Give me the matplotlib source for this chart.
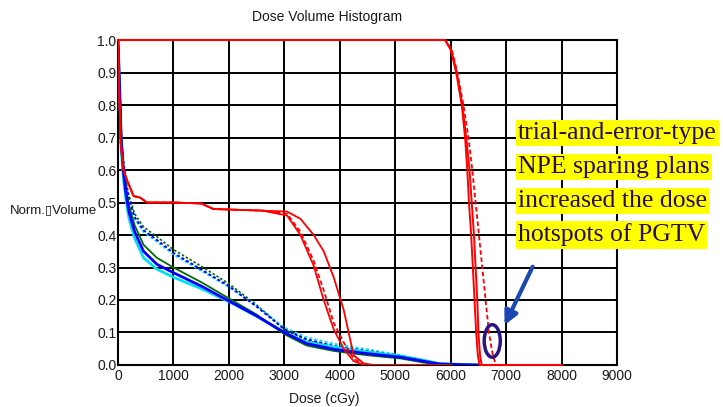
import matplotlib
matplotlib.use('Agg')
import matplotlib.pyplot as plt
from matplotlib.patches import Ellipse

# OAR curves (blue / green / cyan), shared dose grid
oar_dose = [0, 30, 60, 100, 150, 200, 300, 460, 700, 1000, 1500, 2000,
            2500, 3000, 3400, 3900, 4500, 5100, 5500, 5800, 6500]
blue_solid = [1.0, 0.85, 0.68, 0.59, 0.52, 0.47, 0.41, 0.35, 0.31, 0.284, 0.243,
              0.197, 0.151, 0.10, 0.066, 0.048, 0.035, 0.024, 0.012, 0.003, 0.0]
green_solid = [1.0, 0.86, 0.70, 0.61, 0.54, 0.49, 0.43, 0.37, 0.33, 0.30, 0.255,
               0.205, 0.155, 0.095, 0.06, 0.043, 0.03, 0.02, 0.008, 0.0, 0.0]
cyan_solid = [1.0, 0.84, 0.66, 0.57, 0.50, 0.45, 0.39, 0.33, 0.295, 0.27, 0.235,
              0.195, 0.15, 0.10, 0.07, 0.055, 0.04, 0.028, 0.015, 0.004, 0.0]
blue_dash = [1.0, 0.86, 0.70, 0.62, 0.55, 0.51, 0.455, 0.415, 0.385, 0.345, 0.294,
             0.243, 0.18, 0.11, 0.079, 0.058, 0.043, 0.028, 0.015, 0.004, 0.0]
green_dash = [1.0, 0.87, 0.71, 0.63, 0.56, 0.52, 0.465, 0.425, 0.395, 0.355, 0.304,
              0.25, 0.185, 0.11, 0.075, 0.055, 0.04, 0.026, 0.012, 0.003, 0.0]
cyan_dash = [1.0, 0.85, 0.69, 0.61, 0.54, 0.50, 0.45, 0.41, 0.38, 0.34, 0.29,
             0.24, 0.18, 0.115, 0.085, 0.065, 0.048, 0.03, 0.015, 0.004, 0.0]

# red OAR curves with 0.5 plateau
red_oar_dose = [0, 20, 50, 100, 160, 280, 400, 520, 1000, 1500, 1720, 2600,
                3050, 3290, 3530, 3710, 3890, 4070, 4250, 4430, 4600, 6000]
red_a = [1.0, 0.85, 0.68, 0.60, 0.57, 0.52, 0.515, 0.50, 0.50, 0.497, 0.48, 0.475,
         0.46, 0.40, 0.305, 0.20, 0.11, 0.05, 0.012, 0.0, 0.0, 0.0]
red_b = [1.0, 0.85, 0.68, 0.60, 0.57, 0.52, 0.515, 0.50, 0.50, 0.497, 0.48, 0.475,
         0.472, 0.45, 0.40, 0.35, 0.27, 0.17, 0.03, 0.005, 0.0, 0.0]
red_c = [1.0, 0.85, 0.68, 0.60, 0.57, 0.52, 0.515, 0.50, 0.50, 0.497, 0.48, 0.475,
         0.465, 0.41, 0.32, 0.23, 0.13, 0.07, 0.02, 0.0, 0.0, 0.0]

# PGTV-type target curves
tgt_vol = [1.0, 1.0, 0.97, 0.9, 0.8, 0.7, 0.6, 0.5, 0.4, 0.3, 0.2, 0.1, 0.03, 0.0, 0.0]
tgt1_dose = [0, 5900, 6000, 6100, 6200, 6260, 6300, 6330, 6370, 6400, 6430, 6460, 6490, 6520, 8000]
tgt2_dose = [0, 5900, 6010, 6110, 6210, 6280, 6340, 6380, 6420, 6450, 6480, 6500, 6530, 6560, 8000]
tgt3_dose = [0, 5900, 6020, 6120, 6230, 6320, 6390, 6450, 6510, 6570, 6630, 6690, 6760, 6820, 8000]

x_ticks = [0, 1000, 2000, 3000, 4000, 5000, 6000, 7000, 8000, 9000]
y_ticks = [0.0, 0.1, 0.2, 0.3, 0.4, 0.5, 0.6, 0.7, 0.8, 0.9, 1.0]

note_lines = ['trial-and-error-type', 'NPE sparing plans',
              'increased the dose', 'hotspots of PGTV']

RED = '#ff0000'
BLUE = '#0000ff'
GREEN = '#006e00'
CYAN = '#00e0f0'
dotted = (0, (1.5, 1.2))
dashed = (0, (2.5, 1.5))

fig = plt.figure(figsize=(7.23, 4.07), dpi=100)
ax = fig.add_axes([0.1632, 0.1032, 0.6902, 0.7985])

# OAR dotted curves
ax.plot(oar_dose, green_dash, color=GREEN, lw=1.2, ls=dotted, zorder=2)
ax.plot(oar_dose, cyan_dash, color=CYAN, lw=1.4, ls=dotted, zorder=2)
ax.plot(oar_dose, blue_dash, color=BLUE, lw=1.4, ls=dotted, zorder=2)
# OAR solid curves
ax.plot(oar_dose, cyan_solid, color=CYAN, lw=2.0, zorder=3)
ax.plot(oar_dose, green_solid, color=GREEN, lw=1.3, zorder=3)
ax.plot(oar_dose, blue_solid, color=BLUE, lw=2.0, zorder=3)

# red OARs
ax.plot(red_oar_dose, red_a, color=RED, lw=1.3, zorder=4)
ax.plot(red_oar_dose, red_b, color=RED, lw=1.3, zorder=4)
ax.plot(red_oar_dose, red_c, color=RED, lw=1.3, ls=dashed, zorder=4)

# red targets
ax.plot(tgt1_dose, tgt_vol, color=RED, lw=1.4, zorder=4, clip_on=False)
ax.plot(tgt2_dose, tgt_vol, color=RED, lw=1.4, zorder=4, clip_on=False)
ax.plot(tgt3_dose, tgt_vol, color=RED, lw=1.3, ls=dashed, zorder=5, clip_on=False)

ax.set_xlim(0, 9000)
ax.set_ylim(0, 1.0)
ax.set_xticks(x_ticks)
ax.set_yticks(y_ticks)
ax.set_xticklabels([str(v) for v in x_ticks])
ax.set_yticklabels([f'{v:.1f}' for v in y_ticks])
ax.tick_params(axis='y', length=0, pad=1, labelsize=10, labelcolor='#1a1a1a')
ax.tick_params(axis='x', length=0, pad=3, labelsize=10, labelcolor='#1a1a1a')
for lab in ax.get_xticklabels() + ax.get_yticklabels():
    lab.set_family('Liberation Sans')
ax.grid(True, color='black', lw=1.4)
ax.set_axisbelow(True)
for sp in ax.spines.values():
    sp.set_linewidth(1.5)

# titles / labels placed like the original export
fig.text(327 / 723, 1 - 17 / 407, 'Dose Volume Histogram', ha='center', va='center',
         fontsize=10, family='Liberation Sans', color='#1a1a1a')
fig.text(324 / 723, 1 - 399 / 407, 'Dose (cGy)', ha='center', va='center',
         fontsize=10, family='Liberation Sans', color='#1a1a1a')
fig.text(10 / 723, 1 - 210 / 407, 'Norm.\u25afVolume', ha='left', va='center',
         fontsize=9.5, family=['Liberation Sans', 'DejaVu Sans'], color='#1a1a1a')

# marked hotspot and arrow
ax.add_patch(Ellipse((6750, 0.074), 290, 0.1, fill=False, edgecolor='#2b1584',
                     lw=2.5, zorder=6))
ax.annotate('', xy=(6950, 0.115), xytext=(7500, 0.31),
            arrowprops=dict(arrowstyle='-|>,head_width=0.4,head_length=0.8',
                            color='#1a48b0', lw=3), zorder=6)

# highlighted note
for i, line in enumerate(note_lines):
    fig.text(518 / 723, 1 - (133 + 34 * i) / 407, line, ha='left', va='center',
             fontsize=18.5, family='Liberation Serif', color='#2a0a50',
             bbox=dict(boxstyle='square,pad=0.08', fc='#ffff00', ec='none'))

fig.savefig('out.png', dpi=100)
